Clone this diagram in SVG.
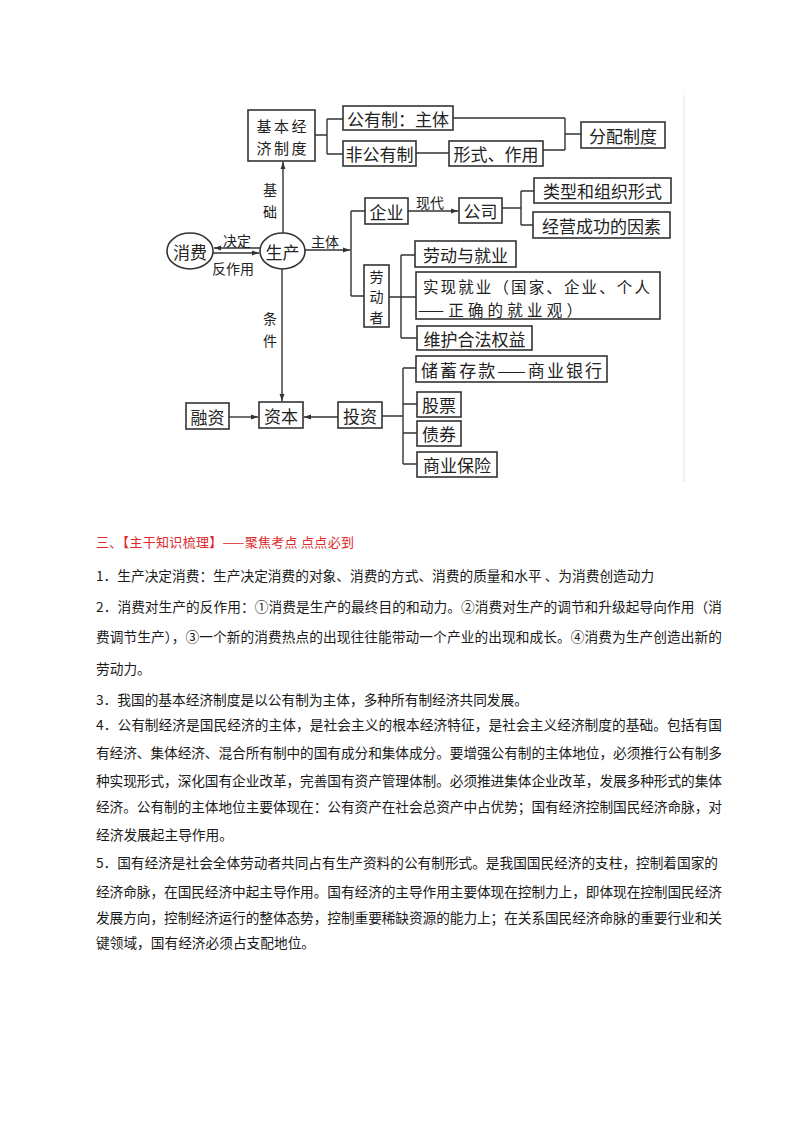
<svg xmlns="http://www.w3.org/2000/svg" width="800" height="1132" viewBox="0 0 800 1132">
<style>
.box{fill:#fff;stroke:#333;stroke-width:1.6}
.ln{fill:none;stroke:#333;stroke-width:1.4}
.t{font-family:"Noto Sans CJK SC","Noto Sans CJK JP",sans-serif;font-size:17px;fill:#222;text-anchor:middle;dominant-baseline:central}
.lb{font-family:"Noto Sans CJK SC","Noto Sans CJK JP",sans-serif;font-size:14px;fill:#222;text-anchor:middle;dominant-baseline:central}
.body{font-family:"Noto Sans CJK SC","Noto Sans CJK JP",sans-serif;font-size:13.7px;fill:#1a1a1a}
.red{font-family:"Noto Sans CJK SC","Noto Sans CJK JP",sans-serif;font-size:13px;fill:#e0282a}
</style>
<defs>
<marker id="ah" viewBox="0 0 10 10" refX="10" refY="5" markerWidth="7" markerHeight="7" orient="auto" markerUnits="userSpaceOnUse">
<path d="M0,1.5 L10,5 L0,8.5 Z" fill="#333"/>
</marker>
</defs>
<rect width="800" height="1132" fill="#fff"/>
<line x1="684" y1="95" x2="684" y2="482" stroke="#ececec" stroke-width="1.5"/>

<g id="connectors">
<line class="ln" x1="260" y1="248" x2="214" y2="248" marker-end="url(#ah)"/>
<line class="ln" x1="213" y1="253" x2="259" y2="253" marker-end="url(#ah)"/>
<line class="ln" x1="283" y1="233" x2="283" y2="162" marker-end="url(#ah)"/>
<line class="ln" x1="305" y1="250" x2="350" y2="250" marker-end="url(#ah)"/>
<line class="ln" x1="282" y1="269" x2="282" y2="401" marker-end="url(#ah)"/>
<line class="ln" x1="229" y1="417" x2="258" y2="417" marker-end="url(#ah)"/>
<line class="ln" x1="338" y1="417" x2="304" y2="417" marker-end="url(#ah)"/>
<line class="ln" x1="408" y1="211" x2="458" y2="211" marker-end="url(#ah)"/>
<path class="ln" d="M315,135 H327 M327,119 V154 M327,119 H343 M327,154 H343"/>
<line class="ln" x1="416" y1="153" x2="449" y2="153"/>
<path class="ln" d="M453,118 H565 M543,150 H565 M565,118 V150 M565,134 H581"/>
<path class="ln" d="M351,211 V296 M351,211 H365 M351,296 H364"/>
<path class="ln" d="M502,208 H521 M521,191 V225 M521,191 H534 M521,225 H533"/>
<path class="ln" d="M389,297 H416 M401,255 V338 M401,255 H415 M401,338 H417"/>
<path class="ln" d="M382,416 H403 M403,368 V464 M403,368 H416 M403,404 H417 M403,433 H417 M403,464 H417"/>
<text class="lb" x="237" y="240">决定</text>
<text class="lb" x="233" y="268">反作用</text>
<text class="lb" x="325" y="241">主体</text>
<text class="lb" x="270" y="189">基</text>
<text class="lb" x="270" y="211">础</text>
<text class="lb" x="270" y="318">条</text>
<text class="lb" x="270" y="340">件</text>
<text class="lb" x="430" y="202">现代</text>
</g>

<g id="jbjjzd"><rect class="box" x="248" y="110" width="67" height="51"/><text class="t" style="font-size:15px"><tspan x="281.5" y="124.5" textLength="50" lengthAdjust="spacing">基本经</tspan><tspan x="281.5" y="146.5" textLength="50" lengthAdjust="spacing">济制度</tspan></text></g>
<g id="gyz"><rect class="box" x="343" y="106" width="110" height="24"/><text class="t" x="398" y="118">公有制：主体</text></g>
<g id="fgyz"><rect class="box" x="343" y="141" width="73" height="25"/><text class="t" x="379.5" y="153.5">非公有制</text></g>
<g id="xszy"><rect class="box" x="449" y="141" width="94" height="25"/><text class="t" x="496" y="153.5">形式、作用</text></g>
<g id="fpzd"><rect class="box" x="581" y="122" width="84" height="26"/><text class="t" x="623" y="135">分配制度</text></g>
<g id="xf"><ellipse class="box" cx="190" cy="251" rx="23" ry="18"/><text class="t" x="190" y="251">消费</text></g>
<g id="sc"><ellipse class="box" cx="282.5" cy="251" rx="22.5" ry="18"/><text class="t" x="282.5" y="251">生产</text></g>
<g id="qy"><rect class="box" x="365" y="198" width="43" height="26"/><text class="t" x="386.5" y="211">企业</text></g>
<g id="gs"><rect class="box" x="459" y="198" width="43" height="25"/><text class="t" x="480.5" y="210.5">公司</text></g>
<g id="lx"><rect class="box" x="534" y="178" width="137" height="25"/><text class="t" x="602.5" y="190.5">类型和组织形式</text></g>
<g id="jy"><rect class="box" x="533" y="212" width="137" height="26"/><text class="t" x="601.5" y="225">经营成功的因素</text></g>
<g id="ldz"><rect class="box" x="364" y="265" width="25" height="62"/><text class="t" style="font-size:14px"><tspan x="376.5" y="275.5">劳</tspan><tspan x="376.5" y="296">动</tspan><tspan x="376.5" y="316.5">者</tspan></text></g>
<g id="ldyjy"><rect class="box" x="415" y="241" width="101" height="26"/><text class="t" x="465.5" y="254">劳动与就业</text></g>
<g id="sxjy"><rect class="box" x="416" y="272" width="244" height="47"/><text class="t" style="text-anchor:start;font-size:15.5px"><tspan x="423" y="285.5" textLength="227" lengthAdjust="spacing">实现就业（国家、企业、个人</tspan><tspan x="418" y="308.5" textLength="164" lengthAdjust="spacing">——正确的就业观）</tspan></text></g>
<g id="whhfqy"><rect class="box" x="417" y="326" width="115" height="24"/><text class="t" x="474.5" y="338">维护合法权益</text></g>
<g id="zb"><rect class="box" x="259" y="402" width="44" height="26"/><text class="t" x="281" y="415">资本</text></g>
<g id="rz"><rect class="box" x="186" y="403" width="43" height="26"/><text class="t" x="207.5" y="416">融资</text></g>
<g id="tz"><rect class="box" x="338" y="402" width="44" height="26"/><text class="t" x="360" y="415">投资</text></g>
<g id="cxck"><rect class="box" x="416" y="356" width="191" height="26"/><text class="t" x="421" y="369" style="text-anchor:start" textLength="181" lengthAdjust="spacing">储蓄存款——商业银行</text></g>
<g id="gp"><rect class="box" x="417" y="392" width="44" height="25"/><text class="t" x="439" y="404.5">股票</text></g>
<g id="zq"><rect class="box" x="417" y="421" width="44" height="25"/><text class="t" x="439" y="433.5">债券</text></g>
<g id="sybx"><rect class="box" x="417" y="452" width="80" height="25"/><text class="t" x="457" y="464.5">商业保险</text></g>

<g id="text">
<text class="red" x="96" y="547" textLength="258" lengthAdjust="spacing">三、【主干知识梳理】——聚焦考点 点点必到</text>
<text class="body" x="96" y="581">1．生产决定消费：生产决定消费的对象、消费的方式、消费的质量和水平 、为消费创造动力</text>
<text class="body" x="96" y="612" textLength="626" lengthAdjust="spacing">2．消费对生产的反作用：①消费是生产的最终目的和动力。②消费对生产的调节和升级起导向作用（消</text>
<text class="body" x="96" y="642" textLength="626" lengthAdjust="spacing">费调节生产），③一个新的消费热点的出现往往能带动一个产业的出现和成长。④消费为生产创造出新的</text>
<text class="body" x="96" y="674">劳动力。</text>
<text class="body" x="96" y="705">3．我国的基本经济制度是以公有制为主体，多种所有制经济共同发展。</text>
<text class="body" x="96" y="730" textLength="626" lengthAdjust="spacing">4．公有制经济是国民经济的主体，是社会主义的根本经济特征，是社会主义经济制度的基础。包括有国</text>
<text class="body" x="96" y="758" textLength="626" lengthAdjust="spacing">有经济、集体经济、混合所有制中的国有成分和集体成分。要增强公有制的主体地位，必须推行公有制多</text>
<text class="body" x="96" y="786" textLength="626" lengthAdjust="spacing">种实现形式，深化国有企业改革，完善国有资产管理体制。必须推进集体企业改革，发展多种形式的集体</text>
<text class="body" x="96" y="812" textLength="626" lengthAdjust="spacing">经济。公有制的主体地位主要体现在：公有资产在社会总资产中占优势；国有经济控制国民经济命脉，对</text>
<text class="body" x="96" y="840">经济发展起主导作用。</text>
<text class="body" x="96" y="868" textLength="622" lengthAdjust="spacing">5．国有经济是社会全体劳动者共同占有生产资料的公有制形式。是我国国民经济的支柱，控制着国家的</text>
<text class="body" x="96" y="897" textLength="626" lengthAdjust="spacing">经济命脉，在国民经济中起主导作用。国有经济的主导作用主要体现在控制力上，即体现在控制国民经济</text>
<text class="body" x="96" y="923" textLength="626" lengthAdjust="spacing">发展方向，控制经济运行的整体态势，控制重要稀缺资源的能力上；在关系国民经济命脉的重要行业和关</text>
<text class="body" x="96" y="948">键领域，国有经济必须占支配地位。</text>
</g>
</svg>
